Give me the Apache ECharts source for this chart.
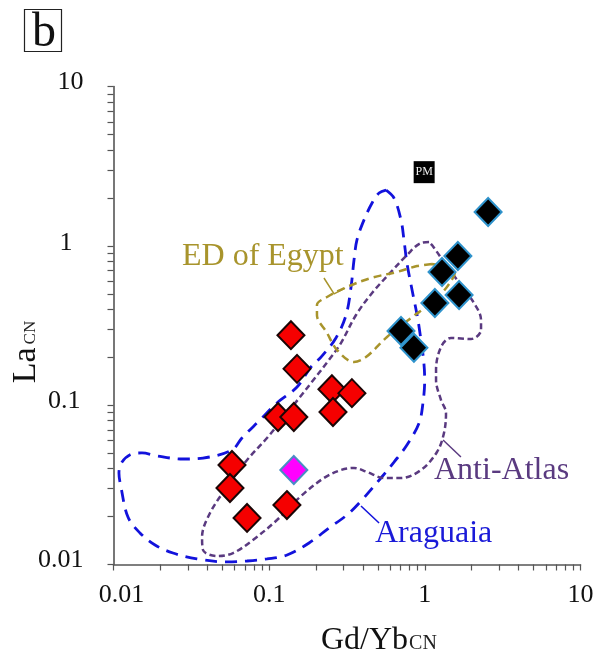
<!DOCTYPE html>
<html><head><meta charset="utf-8">
<style>html,body{margin:0;padding:0;background:#fff}#c{width:608px;height:666px}</style>
<script src="https://cdn.jsdelivr.net/npm/echarts@6/dist/echarts.min.js"></script>
</head><body><div id="c"></div>
<script>
// Samples: [Gd/Yb CN, La CN]
const redSamples = [[0.138,0.275],[0.151,0.169],[0.114,0.0843],[0.144,0.0843],[0.253,0.126],[0.340,0.119],[0.257,0.0906],[0.0577,0.0421],[0.0560,0.0302],[0.0721,0.0196],[0.130,0.0236]];
const magentaSamples = [[0.144,0.0392]];
const blackSamples = [[2.55,1.63],[1.63,0.863],[1.29,0.685],[1.16,0.438],[1.66,0.491],[0.703,0.292],[0.851,0.229]];
const primitiveMantle = [[0.99,2.90]];

// Field outlines, read as log10 values off the log-log axes: [log Gd/Yb, log La]
const araguaiaLog = [[-.249,.350],[-.198,.300],[-.153,.162],[-.134,.037],[-.115,-.108],[-.082,-.277],[-.037,-.509],[-.001,-.842],[-.012,-.986],[-.037,-1.112],[-.115,-1.250],[-.198,-1.357],[-.282,-1.457],[-.404,-1.595],[-.500,-1.689],[-.616,-1.771],[-.744,-1.865],[-.885,-1.940],[-1.014,-1.965],[-1.142,-1.978],[-1.271,-1.984],[-1.464,-1.965],[-1.618,-1.928],[-1.733,-1.878],[-1.830,-1.802],[-1.907,-1.702],[-1.952,-1.514],[-1.965,-1.426],[-1.945,-1.357],[-1.881,-1.306],[-1.817,-1.300],[-1.721,-1.319],[-1.554,-1.338],[-1.425,-1.332],[-1.239,-1.281],[-1.175,-1.206],[-1.059,-1.093],[-.950,-.986],[-.821,-.886],[-.731,-.760],[-.667,-.698],[-.571,-.578],[-.506,-.434],[-.474,-.258],[-.455,-.089],[-.436,.037],[-.391,.162],[-.339,.269],[-.294,.332],[-.249,.350]];
const antiAtlasLog = [[.027,.024],[-.025,.018],[-.115,-.058],[-.217,-.164],[-.339,-.296],[-.442,-.434],[-.539,-.610],[-.616,-.716],[-.731,-.861],[-.802,-.949],[-1.014,-1.206],[-1.142,-1.344],[-1.271,-1.514],[-1.380,-1.677],[-1.431,-1.827],[-1.425,-1.909],[-1.335,-1.947],[-1.232,-1.928],[-1.104,-1.846],[-.950,-1.721],[-.802,-1.576],[-.648,-1.457],[-.539,-1.407],[-.455,-1.394],[-.372,-1.419],[-.262,-1.457],[-.153,-1.457],[-.025,-1.407],[.078,-1.294],[.123,-1.175],[.136,-1.049],[.104,-.968],[.072,-.842],[.072,-.779],[.104,-.635],[.168,-.578],[.297,-.585],[.361,-.528],[.361,-.465],[.316,-.359],[.207,-.214],[.123,-.101],[.046,.005],[.027,.024]];
const egyptLog = [[.046,-.114],[-.050,-.127],[-.179,-.164],[-.346,-.202],[-.500,-.258],[-.628,-.321],[-.693,-.371],[-.693,-.434],[-.628,-.547],[-.564,-.654],[-.455,-.729],[-.378,-.698],[-.243,-.572],[-.089,-.453],[.040,-.359],[.142,-.258],[.194,-.164],[.046,-.114]];

// Leader lines from field labels to outlines
const egyptLeaderLog = [[-.648,-.202],[-.583,-.302],[-.513,-.265]];
const antiAtlasLeaderLog = [[.232,-1.325],[.117,-1.219]];
const araguaiaLeaderLog = [[-.294,-1.740],[-.410,-1.633]];

const tickLabels = [0.01,0.1,1,10];
const tickValues = [0.01,0.02,0.03,0.04,0.05,0.06,0.07,0.08,0.09,0.1,0.2,0.3,0.4,0.5,0.6,0.7,0.8,0.9,1,2,3,4,5,6,7,8,9,10];

const serif = '"Liberation Serif","Times New Roman",serif';
const fromLog = a => a.map(p => [Math.pow(10,p[0]), Math.pow(10,p[1])]);

function outline(name, pts, color, dash, width){
  return {name, type:'line', data:fromLog(pts), smooth:0.35, symbol:'none', clip:false, z:2, silent:true,
    lineStyle:{color, width, type:dash, cap:'butt'}};
}
function leader(pts, color){
  return {type:'line', data:fromLog(pts), symbol:'none', clip:false, z:2, silent:true, lineStyle:{color, width:1.5}};
}
function diamonds(name, data, fill, border){
  return {name, type:'scatter', data, symbol:'diamond', symbolSize:[27,28], z:5, clip:false,
    itemStyle:{color:fill, borderColor:border, borderWidth:2, opacity:1}};
}
function axis(extra){
  return Object.assign({type:'log', logBase:10, min:0.01, max:10, splitLine:{show:false},
    axisLine:{show:true, onZero:false, lineStyle:{color:'#555', width:1.6}},
    axisTick:{show:true, length:6, customValues:tickValues, lineStyle:{color:'#555', width:1.2}},
    minorTick:{show:false}}, extra);
}
function txt(text,x,y,color,size){
  return {type:'text', x, y, z:10, style:{text, fill:color, font:size+'px '+serif, textAlign:'left', textVerticalAlign:'middle'}};
}
const labelFont = {color:'#111', fontFamily:serif, fontSize:26};

const chart = echarts.init(document.getElementById('c'), null, {renderer:'canvas'});
chart.setOption({
  animation:false,
  backgroundColor:'#fff',
  grid:{left:113.5, right:27.5, top:86.5, bottom:101.5, containLabel:false},
  xAxis:axis({axisLabel:Object.assign({customValues:tickLabels, margin:18, hideOverlap:false,
    formatter:v=> v===0.01 ? '{first|0.01}' : String(v),
    rich:{first:Object.assign({padding:[0,0,0,16]},labelFont)}},labelFont)}),
  yAxis:axis({axisLabel:Object.assign({customValues:tickLabels, margin:30, hideOverlap:false,
    formatter:v=> v===1 ? '{one|1}' : v===0.1 ? '{tenth|0.1}' : v===0.01 ? '{hund|0.01}' : '{ten|10}',
    rich:{
      one:Object.assign({padding:[0,11,6,0]},labelFont),
      tenth:Object.assign({padding:[0,3,8,0]},labelFont),
      hund:Object.assign({padding:[0,0,8,0]},labelFont),
      ten:Object.assign({padding:[0,0,8,0]},labelFont)
    }},labelFont)}),
  series:[
    outline('Araguaia', araguaiaLog, '#1212dc', [12,8], 2.8),
    outline('Anti-Atlas', antiAtlasLog, '#5a3a80', [6,3.5], 2.5),
    outline('ED of Egypt', egyptLog, '#a8942c', [8,5], 2.5),
    leader(egyptLeaderLog,'#a8942c'),
    leader(antiAtlasLeaderLog,'#5a3a80'),
    leader(araguaiaLeaderLog,'#1212dc'),
    diamonds('Red', redSamples, '#f50000', '#1a0505'),
    diamonds('Magenta', magentaSamples, '#ff00ff', '#4a8cc4'),
    diamonds('Black', blackSamples, '#000000', '#2f93cc'),
    {name:'PM', type:'scatter', data:primitiveMantle, symbol:'rect', symbolSize:[21,22], z:5,
      itemStyle:{color:'#000', opacity:1},
      label:{show:true, position:'inside', formatter:'PM', color:'#eee', fontFamily:serif, fontSize:12}}
  ],
  graphic:[
    {type:'rect', z:10, shape:{x:24.5,y:9.5,width:37,height:42}, style:{fill:'none', stroke:'#222', lineWidth:1.2}},
    txt('b',32,33,'#111',48),
    txt('ED of Egypt',182,257,'#a8942c',32),
    txt('Anti-Atlas',434,471,'#5a3a80',32),
    txt('Araguaia',375,534,'#1a1ad8',32),
    {type:'text', z:10, x:321, y:641, style:{rich:{a:{font:'32px '+serif, fill:'#111'}, b:{font:'20px '+serif, fill:'#222', verticalAlign:'bottom', padding:[0,0,3,1]}}, text:'{a|Gd/Yb}{b|CN}', textVerticalAlign:'middle'}},
    {type:'text', z:10, x:26, y:352, rotation:Math.PI/2, style:{rich:{a:{font:'34px '+serif, fill:'#111'}, b:{font:'17px '+serif, fill:'#222', verticalAlign:'bottom', padding:[0,0,4,3]}}, text:'{a|La}{b|CN}', textAlign:'center', textVerticalAlign:'middle'}}
  ]
});
</script></body></html>
